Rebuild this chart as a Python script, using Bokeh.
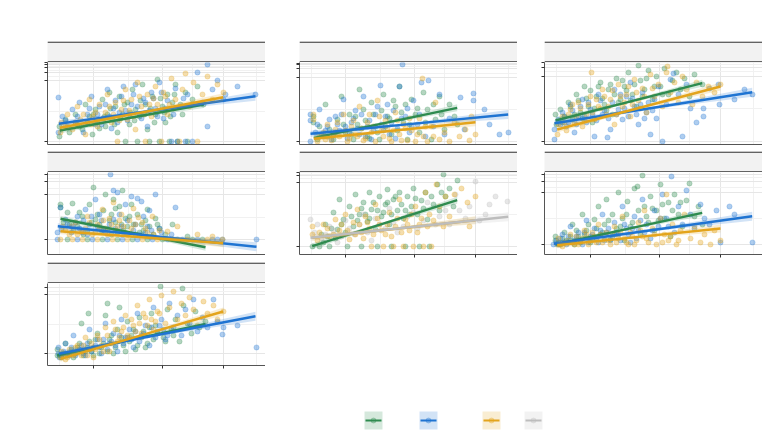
from bokeh.embed import file_html
from bokeh.layouts import column, row
from bokeh.models import CustomJSTickFormatter, FixedTicker, Range1d, Spacer, Span
from bokeh.plotting import figure
from bokeh.resources import INLINE

COLORS = {"green": "#2e8b4f", "blue": "#1f74d2", "gold": "#e3a41c", "grey": "#bdbdbd"}
GROUP_ORDER = ["green", "blue", "gold", "grey"]

# shared x scale (free y scales per panel)
X_MAX = 218
Y_MAX = 82
X_TICKS = [46, 114.5, 176]
X_MINOR = [11.5, 80.5, 145, 208.5]

# ---- panel 1 ----
P1_GREEN = [(12, 8), (12, 18), (18, 25), (22, 12), (28, 30), (30, 20), (35, 15), (38, 40), (42, 28),
            (45, 10), (48, 35), (50, 22), (55, 45), (58, 18), (60, 30), (62, 52), (65, 25), (68, 38),
            (70, 12), (72, 48), (75, 30), (78, 3), (80, 42), (82, 20), (85, 55), (88, 35), (90, 3),
            (92, 28), (95, 60), (98, 40), (100, 15), (102, 3), (105, 48), (108, 30), (110, 65),
            (112, 3), (115, 38), (118, 22), (120, 50), (122, 3), (125, 42), (128, 60), (130, 3),
            (135, 30), (138, 52), (140, 3), (145, 45), (150, 58), (156, 40),
            (32, 18), (40, 22), (46, 30), (52, 16), (57, 28), (63, 36), (67, 20), (73, 26), (77, 40),
            (83, 32), (87, 24), (93, 44), (97, 30), (103, 36), (107, 22), (113, 46), (117, 32),
            (123, 28), (127, 50), (133, 40)]
P1_GOLD = [(13, 12), (14, 22), (20, 30), (25, 15), (30, 38), (33, 25), (38, 10), (42, 45), (45, 28),
           (50, 18), (52, 40), (58, 32), (60, 50), (64, 22), (68, 42), (70, 3), (74, 35), (78, 55),
           (80, 25), (84, 45), (88, 15), (90, 62), (94, 38), (98, 3), (100, 50), (104, 28), (108, 58),
           (110, 40), (114, 3), (118, 48), (120, 30), (124, 66), (128, 45), (132, 3), (135, 55),
           (138, 71), (142, 38), (146, 62), (150, 3), (155, 50), (160, 68), (165, 45), (170, 60),
           (176, 52),
           (18, 18), (28, 22), (36, 30), (44, 20), (48, 32), (56, 26), (62, 38), (66, 30), (72, 24),
           (76, 44), (82, 34), (86, 28), (92, 48), (96, 30), (102, 40), (106, 46), (112, 34),
           (116, 52), (122, 40), (126, 36)]
P1_BLUE = [(11, 47), (11, 12), (15, 28), (20, 18), (25, 35), (28, 22), (32, 42), (36, 12), (40, 30),
           (44, 48), (48, 20), (52, 38), (56, 26), (60, 55), (64, 16), (68, 44), (72, 32), (76, 58),
           (80, 24), (84, 40), (88, 60), (92, 30), (96, 46), (100, 18), (104, 52), (108, 36),
           (112, 62), (116, 26), (120, 44), (124, 3), (128, 56), (130, 3), (134, 38), (138, 3),
           (140, 50), (145, 3), (150, 72), (155, 42), (160, 80), (160, 18), (165, 55), (170, 64),
           (176, 45), (178, 50), (190, 58), (208, 50),
           (18, 24), (30, 28), (38, 20), (42, 36), (50, 30), (54, 20), (58, 40), (62, 28), (66, 36),
           (70, 22), (74, 48), (78, 34), (82, 30), (86, 50), (90, 38), (94, 26), (98, 42), (102, 34),
           (106, 46), (110, 28), (114, 52), (118, 36), (126, 30), (136, 46)]
P1_FITS = {"green": (12.3, 14, 156.3, 40), "blue": (11.3, 20.7, 208, 48.3),
           "gold": (12.3, 16.7, 175.7, 47.3)}
P1_YTICKS = [3, 64, 72.3, 76.7, 79.7, 81.7]

# ---- panel 2 ----
P2_GREEN = [(14, 28), (14, 22), (18, 5), (22, 10), (26, 40), (30, 15), (34, 5), (38, 25), (42, 48),
            (46, 12), (50, 30), (54, 5), (58, 20), (60, 55), (64, 35), (68, 8), (72, 42), (76, 18),
            (80, 5), (84, 50), (88, 28), (92, 10), (96, 38), (100, 58), (104, 22), (108, 5),
            (112, 45), (116, 30), (120, 12), (124, 52), (128, 35), (132, 5), (136, 25), (140, 48),
            (145, 15), (150, 40), (155, 28), (158, 20),
            (20, 18), (28, 8), (36, 12), (44, 20), (52, 10), (56, 28), (62, 16), (66, 24), (70, 6),
            (74, 30), (78, 12), (82, 34), (86, 18), (90, 26), (94, 44), (98, 14), (102, 32),
            (106, 40), (110, 20), (118, 36), (126, 22), (134, 40), (142, 30)]
P2_GOLD = [(14, 25), (14, 30), (18, 3), (24, 12), (28, 20), (32, 4), (36, 15), (40, 8), (44, 30),
           (48, 3), (52, 18), (56, 10), (60, 38), (64, 4), (68, 22), (72, 12), (76, 3), (78, 44),
           (80, 28), (84, 8), (88, 16), (92, 3), (96, 32), (100, 10), (104, 20), (108, 4), (112, 14),
           (116, 3), (120, 26), (123, 66), (124, 8), (128, 3), (132, 18), (136, 42), (140, 5),
           (145, 12), (150, 3), (155, 22), (160, 8), (166, 15), (170, 4), (172, 28), (176, 10),
           (20, 8), (26, 5), (34, 10), (38, 22), (46, 14), (50, 6), (54, 24), (58, 8), (62, 16),
           (66, 6), (70, 30), (74, 18), (82, 14), (86, 24), (90, 6), (94, 14), (98, 24), (102, 4),
           (106, 16), (110, 26), (118, 10), (126, 18), (134, 8)]
P2_BLUE = [(11, 3), (11, 24), (11, 30), (16, 12), (20, 35), (24, 8), (28, 18), (32, 5), (36, 28),
           (40, 14), (44, 45), (48, 6), (52, 22), (56, 34), (60, 10), (64, 48), (68, 18), (72, 5),
           (76, 30), (81, 59), (84, 14), (88, 40), (92, 22), (96, 6), (100, 58), (103, 80), (106, 28),
           (110, 12), (114, 44), (118, 20), (122, 62), (126, 8), (129, 64), (134, 18), (140, 50),
           (145, 10), (150, 26), (161, 47), (165, 15), (174, 51), (174, 44), (185, 35), (190, 20),
           (200, 10), (209, 12),
           (18, 20), (26, 14), (30, 25), (34, 10), (38, 20), (42, 30), (46, 18), (50, 12), (54, 26),
           (58, 16), (62, 30), (66, 8), (70, 24), (74, 14), (78, 38), (82, 20), (86, 28), (90, 10),
           (94, 34), (98, 16), (102, 26), (108, 36), (112, 18), (120, 30)]
P2_FITS = {"green": (14.3, 6.7, 157.7, 36.7), "blue": (11, 10.7, 208.7, 30),
           "gold": (14.3, 5.7, 176, 22.3)}
P2_YTICKS = [3, 67.3, 75.7, 79.7, 81.3]

# ---- panel 3 ----
P3_GREEN = [(11, 30), (12, 20), (16, 35), (20, 28), (24, 42), (28, 25), (32, 50), (36, 32), (40, 58),
            (44, 38), (48, 22), (52, 48), (56, 62), (60, 40), (64, 55), (68, 30), (72, 66), (76, 45),
            (80, 58), (84, 72), (88, 50), (92, 38), (94, 79), (96, 64), (100, 55), (104, 74),
            (108, 45), (112, 68), (116, 58), (120, 76), (124, 50), (128, 64), (132, 72), (136, 55),
            (140, 66), (145, 48), (150, 70), (158, 60),
            (18, 22), (26, 38), (30, 30), (34, 44), (38, 26), (42, 46), (46, 54), (50, 36), (54, 58),
            (58, 46), (62, 34), (66, 60), (70, 50), (74, 42), (78, 64), (82, 54), (86, 44), (90, 60),
            (98, 48), (102, 66), (110, 58), (118, 50)]
P3_GOLD = [(13, 10), (14, 20), (18, 28), (22, 14), (26, 35), (30, 22), (34, 42), (38, 18), (42, 30),
           (46, 48), (47, 72), (50, 25), (54, 38), (58, 55), (62, 30), (66, 45), (70, 20), (74, 60),
           (78, 38), (82, 50), (86, 28), (90, 65), (94, 44), (98, 56), (102, 32), (106, 70),
           (110, 48), (114, 60), (118, 38), (122, 72), (123, 78), (126, 52), (130, 62), (134, 42),
           (138, 68), (142, 55), (148, 40), (152, 62), (158, 48), (164, 58), (170, 52), (176, 60),
           (20, 22), (24, 30), (28, 40), (32, 28), (36, 36), (40, 24), (44, 40), (48, 32), (52, 45),
           (56, 36), (60, 48), (64, 38), (68, 54), (72, 30), (76, 48), (80, 42), (84, 58), (88, 40),
           (92, 52), (96, 36), (100, 48), (108, 56)]
P3_BLUE = [(10, 15), (10, 5), (14, 25), (18, 32), (22, 18), (26, 40), (30, 12), (34, 28), (38, 45),
           (42, 22), (46, 35), (50, 8), (54, 50), (58, 30), (63, 7), (66, 15), (70, 55), (74, 35),
           (78, 25), (82, 48), (86, 62), (90, 38), (94, 20), (98, 52), (102, 32), (106, 10),
           (110, 45), (114, 58), (118, 3), (122, 40), (126, 65), (129, 71), (134, 50), (138, 8),
           (142, 60), (146, 36), (152, 22), (159, 28), (159, 36), (165, 56), (174, 60), (175, 40),
           (190, 45), (200, 55), (208, 50),
           (16, 20), (20, 28), (24, 22), (28, 34), (32, 20), (36, 38), (40, 28), (44, 42), (48, 30),
           (52, 24), (56, 44), (60, 34), (64, 26), (68, 42), (72, 30), (76, 50), (80, 36), (84, 28),
           (88, 46), (92, 30), (96, 40), (100, 26), (104, 42), (108, 34), (112, 26)]
P3_FITS = {"green": (11, 24, 157.7, 61.3), "blue": (10, 21.3, 207.7, 52.3),
           "gold": (12.7, 15, 176, 58)}
P3_YTICKS = [3, 68.3, 77.3, 81.8]

# ---- panel 4 ----
P4_GREEN = [(20, 15), (40, 15), (55, 15), (70, 15), (85, 15), (100, 15), (115, 15), (130, 15),
            (145, 15), (155, 15), (13, 47), (13, 50), (20, 42), (25, 51), (30, 28), (35, 38),
            (40, 24), (42, 50), (46, 67), (48, 35), (52, 30), (56, 44), (58, 60), (60, 25), (64, 40),
            (66, 55), (68, 32), (70, 22), (72, 48), (75, 64), (78, 36), (80, 28), (84, 50), (88, 20),
            (90, 40), (94, 30), (96, 24), (100, 45), (104, 18), (108, 36), (112, 26), (118, 20),
            (125, 30), (140, 18),
            (16, 32), (22, 30), (26, 24), (32, 42), (36, 20), (44, 32), (50, 40), (54, 24), (62, 34),
            (64, 20), (68, 46), (74, 30), (76, 24), (82, 38), (86, 30), (92, 22), (98, 34), (102, 28),
            (106, 20), (110, 30)]
P4_GOLD = [(13, 15), (25, 15), (35, 15), (50, 15), (65, 15), (80, 15), (95, 15), (110, 15),
           (125, 15), (140, 15), (160, 15), (175, 15), (15, 28), (22, 20), (28, 32), (34, 24),
           (40, 38), (45, 20), (50, 30), (55, 45), (58, 26), (62, 36), (66, 52), (70, 28), (74, 40),
           (78, 22), (82, 34), (86, 46), (91, 37), (95, 32), (100, 22), (105, 38), (112, 24),
           (120, 23), (130, 28), (150, 20), (165, 18),
           (18, 24), (24, 28), (30, 20), (38, 26), (42, 32), (48, 22), (52, 26), (56, 34), (60, 20),
           (64, 30), (68, 24), (72, 34), (76, 28), (80, 20), (84, 26), (88, 30), (98, 26), (106, 20)]
P4_BLUE = [(10, 15), (30, 15), (45, 15), (60, 15), (75, 15), (90, 15), (105, 15), (120, 15),
           (135, 15), (150, 15), (165, 15), (170, 15), (175, 15), (209, 15), (10, 22), (13, 47),
           (18, 35), (25, 28), (30, 38), (35, 22), (38, 45), (42, 30), (48, 55), (52, 40), (56, 24),
           (63, 80), (66, 64), (66, 35), (70, 62), (74, 28), (78, 50), (84, 58), (86, 24), (90, 56),
           (94, 53), (98, 22), (100, 28), (102, 44), (108, 60), (112, 26), (128, 47),
           (14, 25), (20, 30), (24, 22), (28, 32), (32, 26), (36, 34), (40, 20), (44, 38), (50, 28),
           (54, 34), (58, 22), (62, 30), (68, 26), (72, 40), (76, 22), (80, 34), (88, 30), (92, 20),
           (96, 38), (104, 24), (114, 22), (124, 20)]
P4_FITS = {"green": (13, 35.7, 158, 7.3), "blue": (10.3, 28.3, 209, 7.7),
           "gold": (13, 23.3, 175.7, 11.3)}
P4_YTICKS = [15, 60, 72.7, 80]

# ---- panel 5 ----
P5_GREEN = [(13, 8), (20, 8), (22, 20), (26, 30), (30, 8), (34, 42), (38, 25), (40, 55), (44, 35),
            (48, 8), (50, 48), (54, 28), (56, 60), (60, 40), (62, 8), (64, 52), (68, 33), (70, 62),
            (72, 45), (76, 25), (78, 8), (80, 58), (82, 38), (86, 50), (88, 65), (90, 30), (92, 8),
            (94, 55), (98, 44), (100, 62), (104, 36), (106, 8), (108, 58), (112, 48), (114, 66),
            (118, 40), (120, 8), (122, 54), (126, 62), (128, 35), (130, 8), (134, 50), (138, 70),
            (140, 44), (144, 80), (146, 58), (150, 66), (154, 48), (158, 74),
            (24, 12), (28, 18), (32, 26), (36, 16), (42, 30), (46, 22), (52, 38), (58, 34), (62, 46),
            (66, 40), (70, 36), (74, 52), (78, 44), (84, 42), (88, 52), (92, 40), (96, 58), (102, 50),
            (106, 44), (110, 40), (116, 56), (124, 46), (132, 58), (142, 62)]
P5_GOLD = [(13, 20), (13, 28), (18, 14), (24, 30), (30, 18), (36, 35), (40, 24), (46, 40), (50, 15),
           (54, 32), (58, 45), (62, 22), (66, 38), (70, 26), (72, 8), (76, 50), (80, 30), (84, 8),
           (86, 20), (90, 42), (94, 8), (96, 28), (100, 55), (104, 8), (106, 35), (110, 24),
           (114, 8), (116, 48), (120, 30), (124, 8), (126, 62), (130, 40), (132, 8), (137, 70),
           (140, 48), (146, 58), (150, 38), (155, 60), (162, 66), (168, 52), (170, 28), (176, 58),
           (20, 22), (28, 26), (34, 20), (42, 30), (48, 24), (56, 20), (60, 30), (64, 16), (68, 32),
           (74, 20), (78, 36), (82, 24), (88, 30), (92, 18), (98, 36), (102, 22), (108, 30),
           (112, 40), (118, 22), (122, 36), (128, 28), (134, 34), (144, 28)]
P5_GREY = [(11, 35), (15, 22), (22, 16), (30, 28), (38, 12), (46, 34), (55, 20), (64, 40), (72, 14),
           (80, 30), (90, 46), (98, 22), (108, 38), (118, 26), (128, 52), (136, 30), (146, 44),
           (156, 60), (166, 36), (170, 48), (176, 73), (186, 40), (196, 58), (208, 53),
           (18, 30), (26, 20), (34, 24), (42, 18), (50, 26), (60, 30), (68, 22), (76, 36), (86, 26),
           (94, 32), (104, 28), (114, 42), (124, 34), (140, 38), (150, 30), (160, 44), (180, 34),
           (190, 50)]
P5_FITS = {"green": (12.7, 8.3, 157.7, 54.3), "gold": (12.7, 16.7, 176, 34.3),
           "grey": (11, 16.7, 208.7, 37.7)}
P5_YTICKS = [8.3, 72.3, 79, 81.7]

# ---- panel 6 ----
P6_GREEN = [(11, 14), (11, 18), (16, 10), (20, 22), (24, 12), (28, 30), (30, 10), (34, 18), (38, 40),
            (42, 24), (46, 12), (50, 35), (54, 48), (56, 20), (60, 30), (62, 55), (66, 15), (68, 40),
            (72, 26), (74, 62), (78, 36), (80, 14), (83, 53), (86, 28), (90, 66), (93, 68), (96, 20),
            (98, 79), (100, 48), (104, 32), (106, 58), (110, 24), (112, 44), (116, 70), (120, 36),
            (124, 52), (126, 18), (130, 60), (134, 40), (138, 28), (142, 54), (145, 71), (150, 38),
            (154, 48), (158, 30),
            (14, 12), (18, 16), (22, 14), (26, 18), (32, 24), (36, 12), (40, 20), (44, 30), (48, 16),
            (52, 26), (58, 22), (64, 34), (70, 20), (76, 28), (82, 40), (88, 32), (94, 44), (102, 38),
            (108, 46), (114, 34), (118, 50), (128, 44), (136, 52)]
P6_GOLD = [(13, 10), (14, 16), (20, 12), (26, 20), (30, 10), (36, 14), (40, 24), (44, 10), (50, 18),
           (54, 30), (58, 12), (62, 22), (66, 10), (70, 28), (74, 16), (78, 38), (82, 12), (86, 22),
           (90, 10), (94, 32), (98, 18), (100, 44), (104, 12), (108, 26), (112, 10), (116, 36),
           (120, 20), (122, 60), (124, 14), (128, 30), (132, 10), (136, 24), (140, 40), (146, 16),
           (150, 28), (156, 12), (160, 20), (166, 10), (170, 24), (176, 14),
           (16, 10), (18, 8), (24, 14), (28, 12), (32, 18), (34, 10), (38, 16), (42, 20), (46, 14),
           (48, 22), (52, 12), (56, 20), (60, 16), (64, 14), (68, 20), (72, 12), (76, 22), (80, 16),
           (84, 10), (88, 18), (92, 14), (96, 24), (102, 16), (110, 20), (118, 12), (126, 18),
           (134, 14)]
P6_BLUE = [(9, 10), (12, 14), (18, 20), (22, 10), (26, 28), (30, 14), (34, 22), (38, 10), (42, 34),
           (46, 18), (50, 26), (54, 12), (58, 40), (62, 22), (66, 14), (70, 32), (74, 20), (78, 48),
           (82, 26), (86, 12), (90, 38), (94, 24), (98, 55), (102, 30), (106, 16), (110, 44),
           (114, 28), (118, 60), (122, 36), (127, 78), (130, 22), (134, 48), (138, 30), (142, 64),
           (146, 40), (150, 26), (156, 50), (160, 36), (165, 30), (172, 44), (176, 12), (185, 48),
           (190, 40), (208, 12),
           (14, 10), (16, 16), (20, 12), (24, 18), (28, 12), (32, 18), (36, 14), (40, 22), (44, 12),
           (48, 20), (52, 16), (56, 24), (60, 14), (64, 26), (68, 18), (72, 22), (76, 14), (80, 30),
           (84, 20), (88, 26), (92, 16), (96, 34), (100, 22), (108, 24), (116, 36), (124, 28)]
P6_FITS = {"green": (11, 10, 157.7, 41.7), "blue": (9.3, 10.7, 207.7, 38.3),
           "gold": (12.7, 9.3, 176, 26)}
P6_YTICKS = [10, 61.7, 73.3, 80]

# ---- panel 7 ----
P7_GREEN = [(10, 10), (10, 16), (14, 8), (18, 22), (22, 12), (26, 8), (30, 18), (34, 42), (38, 14),
            (41, 52), (42, 24), (46, 10), (50, 32), (54, 18), (58, 50), (60, 62), (62, 26), (66, 12),
            (70, 36), (72, 58), (76, 20), (80, 44), (84, 30), (88, 16), (92, 48), (96, 34), (100, 22),
            (104, 52), (108, 40), (113, 79), (116, 28), (120, 56), (124, 36), (128, 46), (132, 24),
            (135, 77), (136, 60), (140, 42), (144, 32), (148, 54), (152, 38), (158, 44),
            (16, 12), (20, 10), (24, 16), (28, 12), (32, 22), (36, 10), (40, 18), (44, 14), (48, 26),
            (52, 12), (56, 22), (60, 14), (64, 30), (68, 18), (74, 28), (78, 14), (82, 24), (86, 36),
            (90, 20), (94, 28), (98, 18), (102, 38), (106, 26), (110, 32), (118, 24), (126, 30)]
P7_GOLD = [(13, 8), (14, 14), (18, 6), (24, 12), (30, 20), (34, 10), (38, 28), (42, 16), (46, 8),
           (50, 30), (54, 20), (58, 38), (62, 14), (66, 44), (70, 24), (74, 34), (78, 50), (82, 28),
           (86, 40), (90, 60), (94, 32), (98, 48), (102, 66), (106, 36), (110, 54), (114, 70),
           (118, 42), (122, 58), (126, 74), (130, 46), (134, 62), (138, 50), (142, 68), (146, 56),
           (150, 40), (156, 64), (160, 52), (166, 60), (170, 46), (176, 54),
           (16, 10), (20, 8), (22, 16), (26, 10), (28, 18), (32, 14), (36, 20), (40, 10), (44, 22),
           (48, 16), (52, 26), (56, 14), (60, 30), (64, 22), (68, 36), (72, 28), (76, 38), (80, 30),
           (84, 46), (88, 34), (92, 42), (96, 52), (100, 40), (104, 46), (108, 44), (112, 52)]
P7_BLUE = [(11, 18), (11, 12), (12, 8), (18, 22), (22, 10), (26, 30), (30, 14), (34, 20), (38, 10),
           (42, 36), (46, 18), (50, 26), (54, 12), (58, 42), (62, 22), (66, 32), (70, 14), (74, 46),
           (78, 28), (82, 36), (86, 18), (90, 52), (94, 30), (98, 40), (102, 20), (106, 58),
           (110, 34), (114, 46), (118, 26), (122, 62), (126, 38), (130, 50), (134, 30), (138, 56),
           (142, 42), (146, 66), (150, 34), (155, 48), (160, 38), (166, 66), (170, 44), (175, 31),
           (176, 38), (190, 40), (209, 18),
           (14, 10), (16, 14), (20, 12), (24, 18), (28, 10), (32, 16), (36, 12), (40, 22), (44, 14),
           (48, 20), (52, 18), (56, 26), (60, 16), (64, 24), (68, 20), (72, 30), (76, 22), (80, 28),
           (84, 26), (88, 34), (92, 24), (96, 32), (100, 30), (104, 38), (108, 28), (112, 40),
           (116, 36), (120, 30)]
P7_FITS = {"blue": (11.3, 11.7, 208, 49.3), "gold": (13, 6.7, 175.7, 54),
           "green": (9.7, 10, 158, 41.7)}
P7_YTICKS = [11.7, 70.7, 78.3]

# confidence band half-widths at start, middle, end of each fitted line
BAND = {"green": (3.0, 1.2, 3.5), "blue": (3.0, 1.2, 4.5), "gold": (3.0, 1.2, 4.0),
        "grey": (3.0, 1.2, 4.5)}

BLANK = CustomJSTickFormatter(code="return ''")


def make_strip(width, left):
    s = figure(width=width, height=21, min_border_left=left, min_border_right=0,
               min_border_top=0, min_border_bottom=0, x_axis_type=None, y_axis_type=None,
               x_range=Range1d(0, 1), y_range=Range1d(-0.03, 1.03), toolbar_location=None,
               output_backend="svg", background_fill_color="#f2f2f2", outline_line_color=None)
    for loc in (0, 1):
        s.add_layout(Span(location=loc, dimension="width", line_color="#333333", line_width=1.2))
    return s


def make_panel(groups, fits, yticks, width, left, bottom, show_xticks):
    p = figure(width=width, height=Y_MAX + bottom, x_range=Range1d(0, X_MAX),
               y_range=Range1d(0, Y_MAX), min_border_left=left, min_border_right=0,
               min_border_top=0, min_border_bottom=bottom, toolbar_location=None,
               output_backend="svg", outline_line_color=None)
    yminor = [(a + b) / 2 for a, b in zip(yticks[:-1], yticks[1:])]
    p.xaxis.ticker = FixedTicker(ticks=X_TICKS, minor_ticks=X_MINOR)
    p.yaxis.ticker = FixedTicker(ticks=yticks, minor_ticks=yminor)
    p.axis.formatter = BLANK
    p.axis.major_label_text_font_size = "0px"
    p.axis.major_label_standoff = 0
    p.axis.axis_line_color = "#555555"
    p.axis.major_tick_line_color = "#333333"
    p.axis.major_tick_out = 3
    p.axis.major_tick_in = 0
    p.axis.minor_tick_out = 0
    p.axis.minor_tick_in = 0
    if not show_xticks:
        p.xaxis.major_tick_out = 0
    p.grid.grid_line_color = "#e6e6e6"
    p.grid.minor_grid_line_color = "#f1f1f1"

    for name, pts in groups.items():
        p.scatter([q[0] for q in pts], [q[1] for q in pts], size=5.2, fill_color=COLORS[name],
                  fill_alpha=0.36, line_color=COLORS[name], line_alpha=0.4, line_width=0.6)

    for name in GROUP_ORDER:
        if name not in fits:
            continue
        x0, y0, x1, y1 = fits[name]
        xs = [x0, (x0 + x1) / 2, x1]
        ys = [y0, (y0 + y1) / 2, y1]
        h = BAND[name]
        p.varea(x=xs, y1=[y - d for y, d in zip(ys, h)], y2=[y + d for y, d in zip(ys, h)],
                fill_color=COLORS[name], fill_alpha=0.2)
        p.line(xs, ys, line_color=COLORS[name], line_width=2.4)
    return p


COL_W = [265, 252, 245]
COL_L = [47, 34, 27]

p1 = make_panel({"green": P1_GREEN, "blue": P1_BLUE, "gold": P1_GOLD}, P1_FITS, P1_YTICKS,
                COL_W[0], COL_L[0], 7, False)
p2 = make_panel({"green": P2_GREEN, "blue": P2_BLUE, "gold": P2_GOLD}, P2_FITS, P2_YTICKS,
                COL_W[1], COL_L[1], 7, False)
p3 = make_panel({"green": P3_GREEN, "blue": P3_BLUE, "gold": P3_GOLD}, P3_FITS, P3_YTICKS,
                COL_W[2], COL_L[2], 7, False)
p4 = make_panel({"green": P4_GREEN, "blue": P4_BLUE, "gold": P4_GOLD}, P4_FITS, P4_YTICKS,
                COL_W[0], COL_L[0], 8, False)
p5 = make_panel({"green": P5_GREEN, "grey": P5_GREY, "gold": P5_GOLD}, P5_FITS, P5_YTICKS,
                COL_W[1], COL_L[1], 10, True)
p6 = make_panel({"green": P6_GREEN, "blue": P6_BLUE, "gold": P6_GOLD}, P6_FITS, P6_YTICKS,
                COL_W[2], COL_L[2], 10, True)
p7 = make_panel({"green": P7_GREEN, "blue": P7_BLUE, "gold": P7_GOLD}, P7_FITS, P7_YTICKS,
                COL_W[0], COL_L[0], 10, True)

TOP = 41
col1 = column(Spacer(width=COL_W[0], height=TOP), make_strip(COL_W[0], COL_L[0]), p1,
              make_strip(COL_W[0], COL_L[0]), p4, make_strip(COL_W[0], COL_L[0]), p7)
col2 = column(Spacer(width=COL_W[1], height=TOP), make_strip(COL_W[1], COL_L[1]), p2,
              make_strip(COL_W[1], COL_L[1]), p5)
col3 = column(Spacer(width=COL_W[2], height=TOP), make_strip(COL_W[2], COL_L[2]), p3,
              make_strip(COL_W[2], COL_L[2]), p6)

# legend strip at the bottom: one key box per group, in pixel units of this strip
LEG_W = sum(COL_W)
LEG_H = 58
lg = figure(width=LEG_W, height=LEG_H, min_border=0, x_axis_type=None, y_axis_type=None,
            x_range=Range1d(0, LEG_W), y_range=Range1d(0, LEG_H), toolbar_location=None,
            output_backend="svg", outline_line_color=None)
LEGEND_X = [364, 419, 482, 524]
KEY = 18
KEY_BOTTOM = 4
for name, lx in zip(GROUP_ORDER, LEGEND_X):
    mid = KEY_BOTTOM + KEY / 2
    lg.quad(left=[lx], right=[lx + KEY], bottom=[KEY_BOTTOM], top=[KEY_BOTTOM + KEY],
            fill_color=COLORS[name], fill_alpha=0.2, line_color=None)
    lg.segment(x0=[lx + 1], x1=[lx + KEY - 1], y0=[mid], y1=[mid], line_color=COLORS[name],
               line_width=2.2)
    lg.scatter([lx + KEY / 2], [mid], size=5, fill_color=COLORS[name], fill_alpha=0.3,
               line_color=COLORS[name], line_alpha=0.3)

layout = column(row(col1, col2, col3), lg)

open("out.html", "w").write(file_html(layout, INLINE))
